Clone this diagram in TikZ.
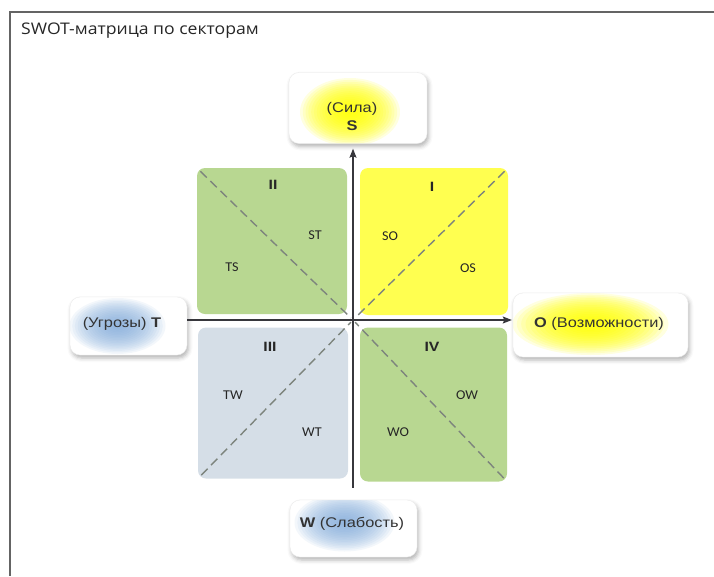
\documentclass[tikz,border=0pt]{standalone}
\usepackage{fontspec}
\setmainfont{Liberation Sans}
\newfontfamily\titlefont[FakeStretch=1.1]{Open Sans}
\newfontfamily\qfont[FakeStretch=1.05]{Carlito}
\newfontfamily\axfont[FakeStretch=1.17]{Liberation Sans}
\usetikzlibrary{shadows.blur,arrows.meta}
\definecolor{qgreen}{RGB}{184,215,145}
\definecolor{qyellow}{RGB}{255,255,80}
\definecolor{qblue}{RGB}{213,222,231}
\definecolor{glowY}{RGB}{255,255,0}
\definecolor{glowB}{RGB}{130,172,220}
\definecolor{axisc}{RGB}{55,55,60}
\definecolor{dashc}{RGB}{125,132,125}
\definecolor{framec}{RGB}{100,100,100}
\newcommand\myglow[6]{%
  \foreach \k in {1,...,18}{%
    \fill[#1,opacity=#6] ([shift={(#2,#3)}]path picture bounding box.center) ellipse ({#4pt*\k/18} and {#5pt*\k/18});}}
\begin{document}
\begin{tikzpicture}[x=1pt,y=-1pt,
  quad/.style={draw=none,rounded corners=8pt,inner sep=0pt},
  lbl/.style={font=\qfont\fontsize{13.5}{15}\selectfont,text=black!85},
  roman/.style={font=\axfont\bfseries\fontsize{13.5}{15}\selectfont,text=black!85},
  axbox/.style={rounded corners=10pt,fill=white,draw=black!8,inner sep=0pt,
    blur shadow={shadow xshift=1.5pt,shadow yshift=-3pt,shadow blur radius=4pt,shadow opacity=30}},
  axtext/.style={font=\axfont\fontsize{14}{18}\selectfont,text=black!80,align=center,inner sep=0pt},
  diag/.style={dashc,line width=1.4pt,dash pattern=on 9pt off 5pt},
  axisline/.style={axisc,line width=1.1pt},
  tip/.style={-{Stealth[length=9pt,width=7pt,inset=1.5pt]}}
]
\useasboundingbox (0,0) rectangle (714,576);
% frame
\coordinate (fr1) at (714,12);
\coordinate (fr2) at (10,12);
\coordinate (fr3) at (10,576);
\draw[framec,line width=1.4pt] (fr1) -- (fr2) -- (fr3);
\node[anchor=west,font=\titlefont\fontsize{16}{18}\selectfont,text=black!85,inner sep=0pt] (title) at (21,31) {SWOT-матрица по секторам};

% quadrants
\node[quad,fill=qgreen,minimum width=150pt,minimum height=146pt] (q2) at (272,241) {};
\node[quad,fill=qyellow,minimum width=148pt,minimum height=147pt] (q1) at (434,241.5) {};
\node[quad,fill=qblue,minimum width=150pt,minimum height=151pt] (q3) at (273,403) {};
\node[quad,fill=qgreen,minimum width=147pt,minimum height=154pt] (q4) at (433.5,404.5) {};

\coordinate (org) at (353,320);
\draw[diag,shorten <=5pt,shorten >=3pt] (q1.north east) -- (org);
\draw[diag,shorten <=5pt,shorten >=3pt] (q2.north west) -- (org);
\draw[diag,shorten <=5pt,shorten >=3pt] (q3.south west) -- (org);
\draw[diag,shorten <=5pt,shorten >=3pt] (q4.south east) -- (org);

% quadrant texts
\node[roman] (r2) at (273,185) {II};
\node[lbl] (st) at (315,235) {ST};
\node[lbl] (ts) at (232,267) {TS};
\node[roman] (r1) at (432,187) {I};
\node[lbl] (so) at (390,236) {SO};
\node[lbl] (os) at (468,268) {OS};
\node[roman] (r3) at (270,347) {III};
\node[lbl] (tw) at (233,395) {TW};
\node[lbl] (wt) at (312,432) {WT};
\node[roman] (r4) at (432,347) {IV};
\node[lbl] (ow) at (467,395) {OW};
\node[lbl] (wo) at (398,432) {WO};

% axis label boxes
\node[axbox,minimum width=138pt,minimum height=71pt,
  path picture={\myglow{glowY}{-8}{4}{50}{34}{0.12}}] (S) at (358,108) {};
\node[axbox,minimum width=117pt,minimum height=58pt,
  path picture={\myglow{glowB}{-11}{0}{48}{28}{0.09}}] (T) at (128.5,326) {};
\node[axbox,minimum width=175pt,minimum height=64pt,
  path picture={\myglow{glowY}{-10}{-1}{78}{31}{0.12}}] (O) at (600.5,325) {};
\node[axbox,minimum width=127pt,minimum height=57pt,
  path picture={\myglow{glowB}{-9}{-6}{50}{29}{0.09}}] (W) at (353.5,528.5) {};

\node[axtext] (St) at (352,116) {(Сила)\\\textbf{S}};
\node[axtext] (Tt) at (122,324) {(Угрозы) \textbf{T}};
\node[axtext] (Ot) at (599,324) {\textbf{O} (Возможности)};
\node[axtext] (Wt) at (352,524) {\textbf{W} (Слабость)};

% axes
\draw[axisline,tip,shorten <=12pt,shorten >=5pt] (W.north -| org) -- (S.south -| org);
\draw[axisline,tip,shorten >=1pt] (T.east |- org) -- (O.west |- org);
\end{tikzpicture}
\end{document}
